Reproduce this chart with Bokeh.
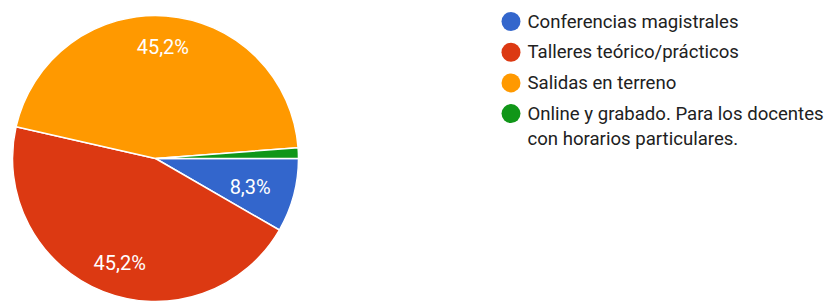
import math
import textwrap
from bokeh.plotting import figure
from bokeh.models import ColumnDataSource
from bokeh.core.properties import value
from bokeh.embed import file_html
from bokeh.resources import INLINE

categories = ["Conferencias magistrales", "Talleres teórico/prácticos",
              "Salidas en terreno",
              "Online y grabado. Para los docentes con horarios particulares."]
counts = [7, 38, 38, 1]
colors = ["#3366CC", "#DC3912", "#FF9900", "#109618"]

W, H = 833, 302
total = sum(counts)
fracs = [c / total for c in counts]

cx, cy, R = 155, 144, 143
LRX, LRY = 98, 112  # label placement radii
starts, ends, labels, lx, ly = [], [], [], [], []
cum = 0.0
for f in fracs:
    a0 = -(cum + f) * 2 * math.pi
    a1 = -cum * 2 * math.pi
    starts.append(a0)
    ends.append(a1)
    mid = (a0 + a1) / 2
    pct = f * 100
    labels.append(("%.1f%%" % pct).replace(".", ",") if pct >= 5 else "")
    lx.append(cx + LRX * math.cos(mid))
    ly.append(cy + LRY * math.sin(mid))
    cum += f

src = ColumnDataSource(dict(start=starts, end=ends, color=colors))
lab = ColumnDataSource(dict(x=lx, y=ly, text=labels))

p = figure(width=W, height=H, x_range=(0, W), y_range=(0, H),
           output_backend="svg", toolbar_location=None, min_border=0)
p.axis.visible = False
p.grid.visible = False
p.outline_line_color = None
p.background_fill_color = "white"

p.wedge(x=cx, y=cy, radius=R, start_angle="start", end_angle="end",
        fill_color="color", line_color="white", line_width=1.5, source=src)
p.text(x="x", y="y", text="text", source=lab, text_color="white",
       text_font=value("Roboto"), text_font_size="20px",
       text_align="center", text_baseline="middle")

# legend
lgx, lgy0, step, lh = 510.5, 281, 30.7, 25
mx, my, mc, tx, ty, tt = [], [], [], [], [], []
for i, (cat, col) in enumerate(zip(categories, colors)):
    y = lgy0 - i * step
    mx.append(lgx); my.append(y); mc.append(col)
    for k, line in enumerate(textwrap.wrap(cat, 36)):
        tx.append(lgx + 16.5); ty.append(y - k * lh); tt.append(line)

p.scatter(x=mx, y=my, size=19, color=mc, line_color=None)
p.text(x=tx, y=ty, text=tt, text_color="#212121", text_font=value("Roboto"),
       text_font_size="18.6px", text_align="left", text_baseline="middle")

open("out.html", "w").write(file_html(p, INLINE))
